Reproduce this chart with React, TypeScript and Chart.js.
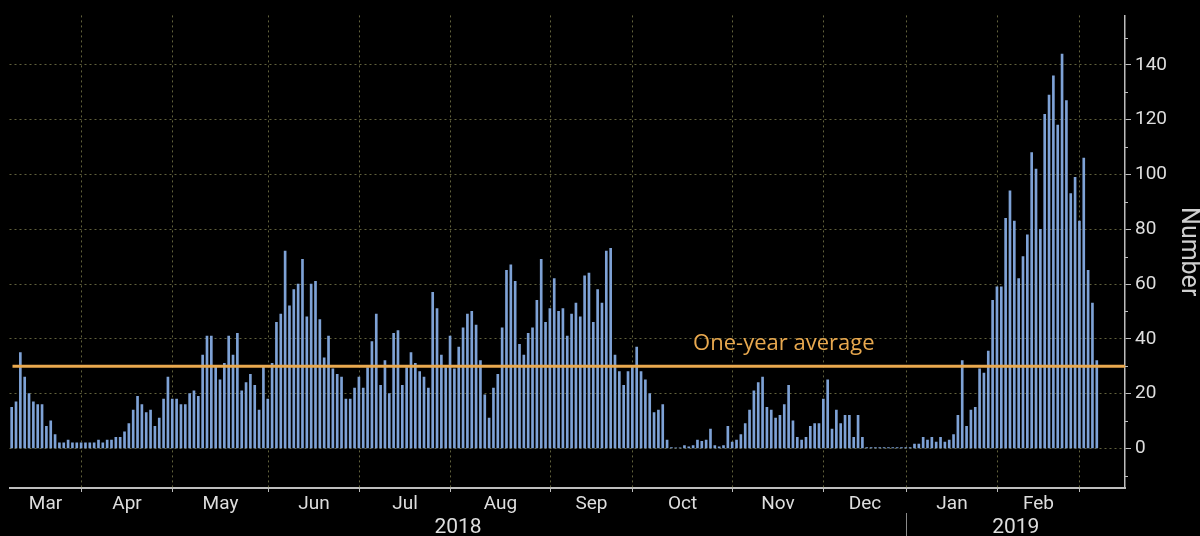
import React, { useEffect, useRef } from 'react';
import { Chart, registerables } from 'chart.js';

Chart.register(...registerables);

// ---- Data (one value per US trading day, grouped by month) ----
const monthNames = ['Mar', 'Apr', 'May', 'Jun', 'Jul', 'Aug', 'Sep', 'Oct', 'Nov', 'Dec', 'Jan', 'Feb', 'Mar'];
const monthYears = [2018, 2018, 2018, 2018, 2018, 2018, 2018, 2018, 2018, 2018, 2019, 2019, 2019];
const showMonthLabel = [true, true, true, true, true, true, true, true, true, true, true, true, false];

const mar2018 = [15, 17, 35, 26, 20, 17, 16, 16, 8, 10, 5, 2, 2, 3, 2, 2, 2];
const apr2018 = [2, 2, 2, 3, 2, 3, 3, 4, 4, 6, 9, 14, 19, 16, 13, 14, 8, 11, 18, 26, 18];
const may2018 = [18, 16, 16, 20, 21, 19, 34, 41, 41, 30, 25, 31, 41, 34, 42, 21, 24, 27, 23, 14, 30, 18];
const jun2018 = [31, 46, 49, 72, 52, 58, 60, 69, 48, 60, 61, 47, 33, 41, 29, 27, 26, 18, 18, 22, 26];
const jul2018 = [22, 29.5, 39, 49, 23, 32, 20, 42, 43, 23, 29.5, 35, 31, 28, 26, 22, 57, 51, 34, 29.5, 41];
const aug2018 = [29, 37, 44, 49, 50, 45, 32, 19.5, 11, 22, 27, 44, 65, 67, 61, 38, 34, 42, 44, 54, 69, 46, 51];
const sep2018 = [62, 50, 51, 41, 49, 53, 48, 63, 64, 46, 58, 53, 72, 73, 34, 28, 23, 28, 30];
const oct2018 = [37, 28, 25, 20, 13, 14, 16, 3, 0.3, 0.2, 0.2, 1, 0.5, 1, 3, 2.5, 3, 7, 1, 0.5, 1, 8, 2.3];
const nov2018 = [3, 5, 9, 14, 21, 24, 26, 15, 14, 11, 12, 16, 23, 10, 4, 3, 4, 8, 9, 9, 18];
const dec2018 = [25, 7, 14, 9, 12, 12, 4, 12, 4, 0.3, 0.3, 0.3, 0.3, 0.3, 0.3, 0.3, 0.3, 0.3, 0.3];
const jan2019 = [0.3, 1.5, 1.5, 4, 3, 4, 2.3, 4, 2.3, 3, 5, 12, 32, 8, 14, 15, 29, 27.5, 35.5, 54, 59];
const feb2019 = [59, 84, 94, 83, 62, 70, 78, 108, 102, 80, 122, 129, 136, 118, 144, 127, 93, 99, 83];
const mar2019 = [106, 65, 53, 32];

const monthValues = [mar2018, apr2018, may2018, jun2018, jul2018, aug2018, sep2018, oct2018, nov2018, dec2018, jan2019, feb2019, mar2019];

const oneYearAverage = 30;
const averageLabel = 'One-year average';
const averageLabelSlot = 157;
const yAxisTitle = 'Number';
const emptyTrailingSlots = 6;

// ---- Build category table ----
const labels: string[] = [];
const values: (number | null)[] = [];
const monthStart: number[] = [];
monthValues.forEach((arr, m) => {
  monthStart.push(labels.length);
  arr.forEach((v, d) => {
    labels.push(`${monthNames[m]} ${monthYears[m]} #${d + 1}`);
    values.push(v);
  });
});
const dataLength = labels.length;
for (let i = 0; i < emptyTrailingSlots; i++) {
  labels.push('');
  values.push(null);
}

const GRID = 'rgba(130,130,80,0.75)';
const AXIS = '#bdbdbd';
const TEXT = '#dedede';
const ORANGE = '#e9a94f';
const BAR = '#7ea2d6';

const isMajor = (v: number) => v >= 0 && v <= 140 && v % 20 === 0;

const decor = {
  id: 'decor',
  beforeDatasetsDraw(chart: any) {
    const { ctx, chartArea: a, scales } = chart;
    const x = scales.x;
    ctx.save();
    ctx.strokeStyle = GRID;
    ctx.lineWidth = 1;
    ctx.setLineDash([2, 3]);
    for (let m = 1; m < monthStart.length; m++) {
      const px = Math.round(x.getPixelForValue(monthStart[m] - 1)) + 0.5;
      ctx.beginPath();
      ctx.moveTo(px, a.top);
      ctx.lineTo(px, a.bottom);
      ctx.stroke();
    }
    ctx.restore();
  },
  afterDatasetsDraw(chart: any) {
    const { ctx, chartArea: a, scales } = chart;
    const x = scales.x;
    const y = scales.y;
    const py = y.getPixelForValue(oneYearAverage);
    ctx.save();
    ctx.strokeStyle = ORANGE;
    ctx.lineWidth = 3;
    ctx.beginPath();
    ctx.moveTo(a.left + 3, py);
    ctx.lineTo(a.right, py);
    ctx.stroke();
    ctx.fillStyle = ORANGE;
    ctx.font = '22px "Open Sans"';
    ctx.textAlign = 'left';
    ctx.textBaseline = 'alphabetic';
    ctx.fillText(averageLabel, x.getPixelForValue(averageLabelSlot), py - 16);
    ctx.restore();
  },
  afterDraw(chart: any) {
    const { ctx, chartArea: a, scales } = chart;
    const x = scales.x;
    const y = scales.y;
    const boundary = (m: number) =>
      m === 0 ? a.left : Math.round(x.getPixelForValue(monthStart[m] - 1)) + 0.5;
    ctx.save();
    // minor y ticks
    ctx.strokeStyle = AXIS;
    ctx.lineWidth = 1;
    for (let v = -10; v <= 150; v += 20) {
      const py = Math.round(y.getPixelForValue(v)) + 0.5;
      ctx.beginPath();
      ctx.moveTo(a.right, py);
      ctx.lineTo(a.right + 3, py);
      ctx.stroke();
    }
    // x tick marks at month boundaries
    for (let m = 1; m < monthStart.length; m++) {
      const px = boundary(m);
      ctx.beginPath();
      ctx.moveTo(px, a.bottom);
      ctx.lineTo(px, a.bottom + 4);
      ctx.stroke();
    }
    // month labels
    ctx.fillStyle = TEXT;
    ctx.font = '19px Roboto';
    ctx.textAlign = 'center';
    ctx.textBaseline = 'alphabetic';
    for (let m = 0; m < monthStart.length; m++) {
      if (!showMonthLabel[m]) continue;
      const left = boundary(m);
      const right = m + 1 < monthStart.length ? boundary(m + 1) : x.getPixelForValue(dataLength - 1);
      ctx.fillText(monthNames[m], (left + right) / 2, a.bottom + 21);
    }
    // year labels
    const firstJan = monthYears.indexOf(2019);
    const sep = boundary(firstJan);
    ctx.font = '21px Roboto';
    ctx.fillText('2018', (a.left + sep) / 2, a.bottom + 45);
    ctx.fillText('2019', (sep + a.right) / 2, a.bottom + 45);
    ctx.strokeStyle = '#8a8a8a';
    ctx.beginPath();
    ctx.moveTo(sep, a.bottom + 25);
    ctx.lineTo(sep, chart.height);
    ctx.stroke();
    ctx.restore();
  },
};

export default function App() {
  const ref = useRef<HTMLCanvasElement | null>(null);
  useEffect(() => {
    if (!ref.current) return;
    Chart.defaults.font.family = 'Roboto';
    const chart = new Chart(ref.current, {
      type: 'bar',
      data: {
        labels,
        datasets: [
          {
            label: 'Number',
            data: values,
            backgroundColor: BAR,
            borderWidth: 0,
            barThickness: 2,
          },
        ],
      },
      options: {
        responsive: false,
        maintainAspectRatio: false,
        animation: false,
        layout: { padding: { left: 9.5, top: 12, right: 0, bottom: 0 } },
        plugins: { legend: { display: false }, tooltip: { enabled: false } },
        scales: {
          x: {
            type: 'category',
            offset: true,
            grid: { display: false },
            ticks: { display: false },
            border: { display: true, color: AXIS, width: 2 },
            afterFit: (s: any) => {
              s.height = 48;
            },
          },
          y: {
            position: 'right',
            min: -14.5,
            max: 158.1,
            ticks: {
              stepSize: 10,
              includeBounds: false,
              autoSkip: false,
              color: TEXT,
              font: { size: 19, family: 'Roboto' },
              padding: 4,
              callback: (v: any) => (isMajor(Number(v)) ? String(v) : ''),
            },
            grid: {
              color: (c: any) => (c.tick && isMajor(c.tick.value) ? GRID : 'transparent'),
              tickColor: (c: any) => (c.tick && isMajor(c.tick.value) ? AXIS : 'transparent'),
              tickLength: 6,
              lineWidth: 1,
            },
            border: { display: true, color: AXIS, width: 1.5, dash: [2, 3] },
            title: {
              display: true,
              text: yAxisTitle,
              color: '#cfcfcf',
              font: { size: 25, family: 'Roboto', lineHeight: 1 },
              padding: { top: -1, bottom: 0 },
            },
            afterFit: (s: any) => {
              s.width = 75;
            },
          },
        },
      },
      plugins: [decor],
    });
    return () => chart.destroy();
  }, []);
  return (
    <div style={{ position: 'fixed', left: 0, top: 0, width: 1200, height: 536, background: '#000' }}>
      <canvas ref={ref} width={1200} height={536} style={{ display: 'block' }} />
    </div>
  );
}
